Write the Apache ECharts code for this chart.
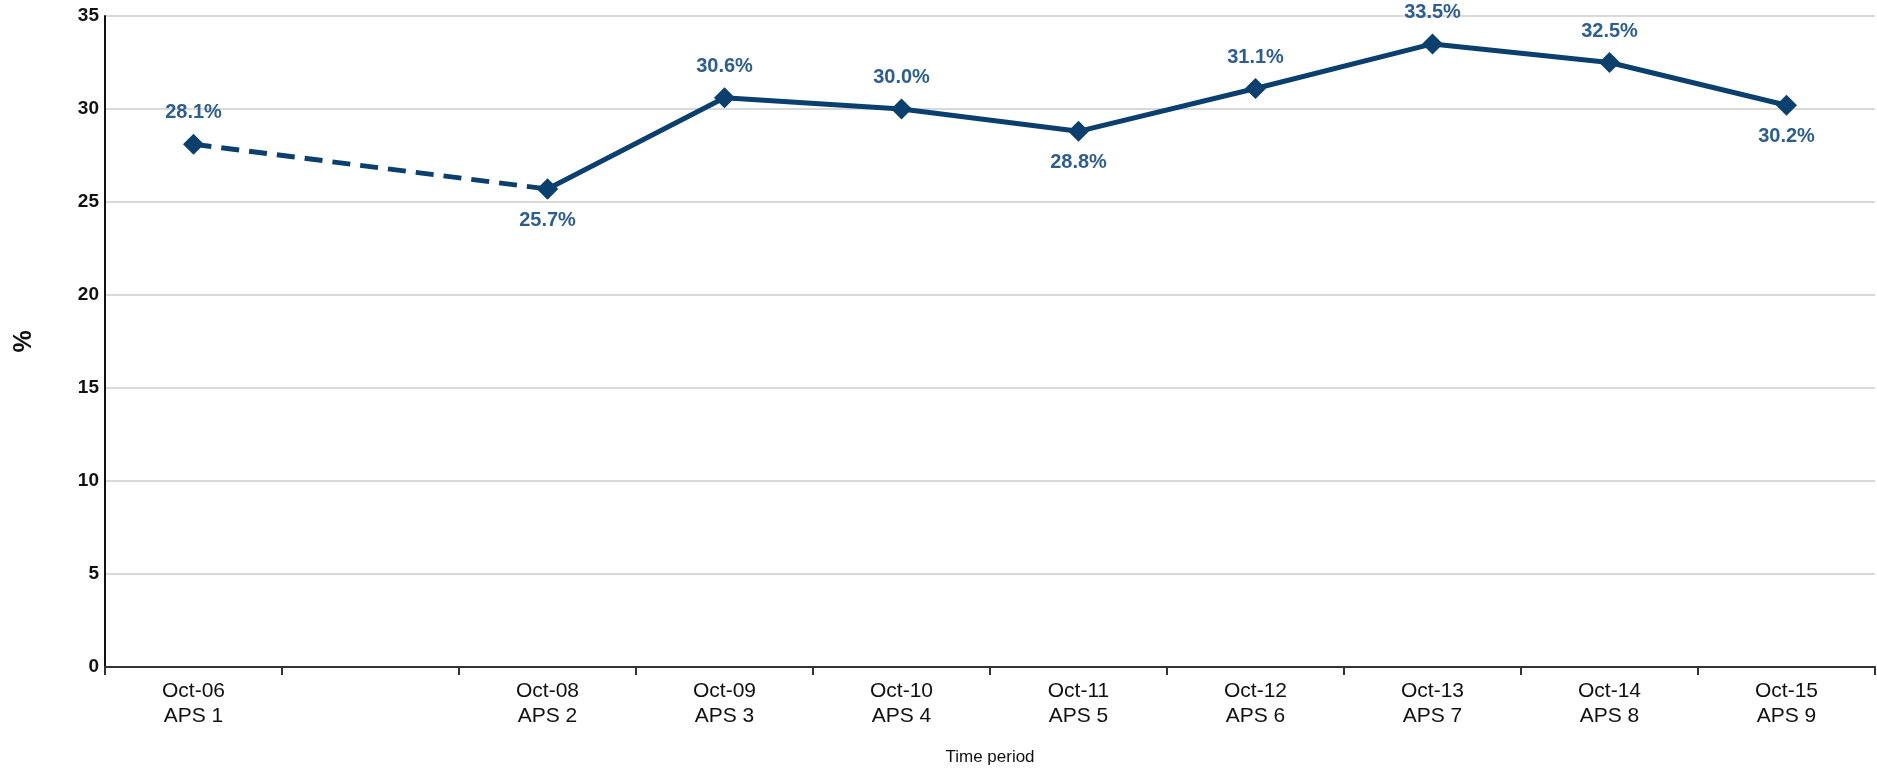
<!DOCTYPE html>
<html>
<head>
<meta charset="utf-8">
<script src="https://cdn.jsdelivr.net/npm/echarts@6/dist/echarts.min.js"></script>
<style>
  html, body { margin: 0; padding: 0; background: #ffffff; }
  #chart { width: 1877px; height: 771px; }
</style>
</head>
<body>
<div id="chart"></div>
<script>
// Survey periods (Oct-07 had no survey, so it stays blank)
const periods = ['Oct-06', 'Oct-07', 'Oct-08', 'Oct-09', 'Oct-10', 'Oct-11', 'Oct-12', 'Oct-13', 'Oct-14', 'Oct-15'];
const waves = ['APS 1', '', 'APS 2', 'APS 3', 'APS 4', 'APS 5', 'APS 6', 'APS 7', 'APS 8', 'APS 9'];
const hasData = [true, false, true, true, true, true, true, true, true, true];

// Percentage values per period (null where no survey was run)
const values = [28.1, null, 25.7, 30.6, 30.0, 28.8, 31.1, 33.5, 32.5, 30.2];
// Where each value label sits relative to its marker
const labelSide = ['top', null, 'bottom', 'top', 'top', 'bottom', 'top', 'top', 'top', 'bottom'];

const yTicks = { min: 0, max: 35, interval: 5 };

const lineColor = '#0b3f6d';
const labelColor = '#2d5e8e';

// First segment bridges the missing year with a dashed line
const bridgeData = values.map((v, i) => (i <= 2 ? v : null));
// Continuous series from APS 2 onwards
const mainData = values.map((v, i) => (i >= 2 ? v : null));

function pointsWithLabels(arr, showFrom, showTo) {
  return arr.map((v, i) => {
    if (v === null) return null;
    const show = i >= showFrom && i <= showTo;
    return {
      value: v,
      label: {
        show: show,
        position: labelSide[i] || 'top',
        distance: 11
      }
    };
  });
}

const valueLabel = {
  formatter: p => p.value.toFixed(1) + '%',
  fontFamily: 'Liberation Sans, Arial',
  fontSize: 20,
  fontWeight: 'bold',
  color: labelColor
};

const chart = echarts.init(document.getElementById('chart'), null, { renderer: 'canvas' });

chart.setOption({
  backgroundColor: '#ffffff',
  animation: false,
  grid: { left: 105, right: 2, top: 16, bottom: 104, containLabel: false },
  xAxis: {
    type: 'category',
    data: periods,
    boundaryGap: true,
    name: 'Time period',
    nameLocation: 'middle',
    nameGap: 82,
    nameTextStyle: { fontFamily: 'Liberation Sans Narrow, Liberation Sans, Arial', fontSize: 17, color: '#111' },
    axisLine: { lineStyle: { color: '#333', width: 2 } },
    axisTick: { show: true, alignWithLabel: false, length: 8, lineStyle: { color: '#333', width: 2 } },
    axisLabel: {
      interval: 0,
      margin: 12,
      lineHeight: 25,
      fontFamily: 'Liberation Sans Narrow, Liberation Sans, Arial',
      fontSize: 21,
      color: '#111',
      formatter: (val, idx) => (hasData[idx] ? val + '\n' + waves[idx] : '')
    },
    splitLine: { show: false }
  },
  yAxis: {
    type: 'value',
    min: yTicks.min,
    max: yTicks.max,
    interval: yTicks.interval,
    name: '%',
    nameLocation: 'middle',
    nameGap: 68,
    nameRotate: 90,
    nameTextStyle: { fontFamily: 'Liberation Sans, Arial', fontSize: 25, fontWeight: 'bold', color: '#111' },
    axisLine: { show: true, lineStyle: { color: '#111', width: 2 } },
    axisTick: { show: false },
    axisLabel: {
      margin: 6,
      fontFamily: 'Liberation Sans, Arial',
      fontSize: 19,
      fontWeight: 'bold',
      color: '#111'
    },
    splitLine: { show: true, lineStyle: { color: '#cccccc', width: 1.5 } }
  },
  series: [
    {
      type: 'line',
      data: pointsWithLabels(bridgeData, 0, 0),
      connectNulls: true,
      symbol: 'diamond',
      symbolSize: 21,
      z: 3,
      lineStyle: { color: lineColor, width: 5, type: [18, 10] },
      itemStyle: { color: lineColor },
      label: Object.assign({ show: false }, valueLabel)
    },
    {
      type: 'line',
      data: pointsWithLabels(mainData, 2, 9),
      symbol: 'diamond',
      symbolSize: 21,
      z: 4,
      lineStyle: { color: lineColor, width: 5 },
      itemStyle: { color: lineColor },
      label: Object.assign({ show: true }, valueLabel)
    }
  ]
});
</script>
</body>
</html>
